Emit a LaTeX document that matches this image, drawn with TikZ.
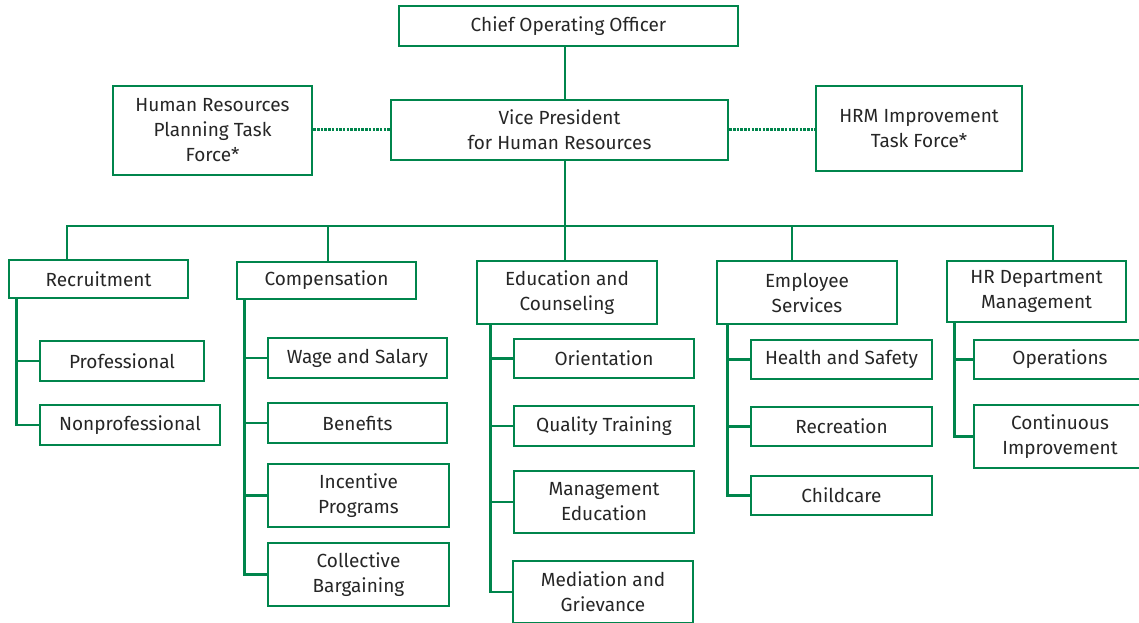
\documentclass[tikz,border=0pt]{standalone}
\usepackage{fontspec}
\setmainfont{Fira Sans}
\definecolor{hrgreen}{RGB}{0,133,76}
\begin{document}
\begin{tikzpicture}[x=1pt, y=-1pt,
    box/.style={draw=hrgreen, line width=2.6pt, inner sep=0pt, align=center,
        font=\fontsize{19}{25}\selectfont, text=black!85},
    link/.style={draw=hrgreen, line width=2.6pt},
    dotlink/.style={draw=hrgreen, line width=3pt, dash pattern=on 2.5pt off 1.2pt}]
    \useasboundingbox (0,0) rectangle (1139,622);
    \clip (0,0) rectangle (1139,622);
    % top
    \node[box, minimum width=339, minimum height=40] (coo) at (568.5,26) {Chief Operating Officer};
    \node[box, minimum width=337, minimum height=60] (vp) at (559.5,130) {Vice President\\for Human Resources};
    \node[box, minimum width=199, minimum height=89] (plan) at (212.5,130.5) {Human Resources\\Planning Task\\Force*};
    \node[box, minimum width=206, minimum height=85] (imp) at (919,128.5) {HRM Improvement\\Task Force*};
    \draw[link] (coo.south -| 565,0) -- (vp.north -| 565,0);
    \draw[dotlink] (plan.east |- 0,129) -- (vp.west |- 0,129);
    \draw[dotlink] (vp.east |- 0,129) -- (imp.west |- 0,129);
    % departments
    \node[box, minimum width=179, minimum height=38] (rec) at (98.5,279) {Recruitment};
    \node[box, minimum width=179, minimum height=37] (comp) at (326.5,280.5) {Compensation};
    \node[box, minimum width=180, minimum height=63] (edu) at (567,292.5) {Education and\\Counseling};
    \node[box, minimum width=180, minimum height=63] (emp) at (807,292.5) {Employee\\Services};
    \node[box, minimum width=179, minimum height=61] (hrd) at (1036.5,291.5) {HR Department\\Management};
    \coordinate (busL) at (67,226);
    \coordinate (busR) at (1053,226);
    \draw[link] (vp.south -| 565,0) -- (565,226);
    \draw[link] (rec.north -| busL) -- (busL) -- (busR) -- (hrd.north -| busR);
    \foreach \d/\x in {comp/328, edu/565, emp/792}
        \draw[link] (\x,226) -- (\d.north -| \x,0);
    % recruitment
    \node[box, minimum width=164, minimum height=40] (prof) at (122,361) {Professional};
    \node[box, minimum width=180, minimum height=40] (nonprof) at (130,425) {Nonprofessional};
    % compensation
    \node[box, minimum width=179, minimum height=40] (wage) at (357.5,358) {Wage and Salary};
    \node[box, minimum width=179, minimum height=40] (ben) at (357.5,423) {Benefits};
    \node[box, minimum width=181, minimum height=63] (inc) at (358.5,495.5) {Incentive\\Programs};
    \node[box, minimum width=181, minimum height=63] (coll) at (358.5,574.5) {Collective\\Bargaining};
    % education
    \node[box, minimum width=180, minimum height=39] (ori) at (604,358.5) {Orientation};
    \node[box, minimum width=180, minimum height=40] (qual) at (604,426) {Quality Training};
    \node[box, minimum width=180, minimum height=62] (mgmt) at (604,502) {Management\\Education};
    \node[box, minimum width=180, minimum height=62] (med) at (603,592) {Mediation and\\Grievance};
    % employee services
    \node[box, minimum width=181, minimum height=39] (health) at (841.5,359.5) {Health and Safety};
    \node[box, minimum width=181, minimum height=39] (rec2) at (841.5,426.5) {Recreation};
    \node[box, minimum width=181, minimum height=39] (child) at (841.5,495.5) {Childcare};
    % hr department
    \node[box, minimum width=172, minimum height=39] (ops) at (1060,359.5) {Operations};
    \node[box, minimum width=172, minimum height=63] (cont) at (1060,436.5) {Continuous\\Improvement};
    % trunks down to the last child
    \foreach \p/\s/\c in {rec/9/nonprof, comp/9/coll, edu/15/med, emp/12/child, hrd/9/cont}
        \draw[link] ([xshift=\s pt]\p.south west) |- (\c.west);
    % stubs to the other children
    \foreach \p/\s/\c in {rec/9/prof, comp/9/wage, comp/9/ben, comp/9/inc,
            edu/15/ori, edu/15/qual, edu/15/mgmt,
            emp/12/health, emp/12/rec2, hrd/9/ops}
        \draw[link] ([xshift=\s pt]\p.south west |- \c.west) -- (\c.west);
\end{tikzpicture}
\end{document}
